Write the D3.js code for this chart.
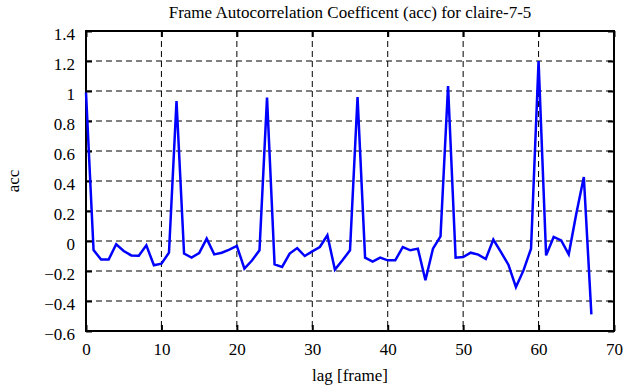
<!DOCTYPE html>
<html>
<head>
<meta charset="utf-8">
<script src="https://cdn.jsdelivr.net/npm/d3@7"></script>
<style>
  body { margin: 0; background: #fff; }
  svg text { font-family: "Liberation Serif", "DejaVu Serif", serif; fill: #000; }
</style>
</head>
<body>
<div id="chart"></div>
<script>
// acc per lag (lag 0..67)
const lags = d3.range(0, 68);
const acc = [
  0.99, -0.06, -0.124, -0.124, -0.022, -0.067, -0.096, -0.098, -0.029, -0.162,
  -0.151, -0.078, 0.933, -0.084, -0.111, -0.08, 0.016, -0.089, -0.078, -0.058,
  -0.033, -0.184, -0.13, -0.062, 0.956, -0.156, -0.173, -0.084, -0.047, -0.1,
  -0.069, -0.04, 0.038, -0.191, -0.129, -0.062, 0.96, -0.111, -0.138, -0.111,
  -0.129, -0.129, -0.04, -0.062, -0.051, -0.262, -0.051, 0.031, 1.033, -0.111,
  -0.107, -0.078, -0.091, -0.12, 0.009, -0.073, -0.158, -0.307, -0.196, -0.051,
  1.2, -0.096, 0.027, 0.004, -0.089, 0.182, 0.427, -0.489
];
const xTicks = [0, 10, 20, 30, 40, 50, 60, 70];
const yTicks = [-0.6, -0.4, -0.2, 0, 0.2, 0.4, 0.6, 0.8, 1, 1.2, 1.4];

const width = 625, height = 387;
const margin = { top: 31, right: 11, bottom: 56, left: 86 };

const svg = d3.select("#chart").append("svg")
  .attr("width", width)
  .attr("height", height);

const x = d3.scaleLinear().domain([0, 70]).range([margin.left, width - margin.right]);
const y = d3.scaleLinear().domain([-0.6, 1.4]).range([height - margin.bottom, margin.top]);

// dashed grid
svg.append("g")
  .selectAll("line.gx")
  .data(xTicks.slice(1, -1))
  .join("line")
    .attr("x1", d => x(d)).attr("x2", d => x(d))
    .attr("y1", y(1.4)).attr("y2", y(-0.6))
    .attr("stroke", "#000").attr("stroke-width", 1)
    .attr("stroke-dasharray", "6,4");

svg.append("g")
  .selectAll("line.gy")
  .data(yTicks.slice(1, -1))
  .join("line")
    .attr("x1", x(0)).attr("x2", x(70))
    .attr("y1", d => y(d)).attr("y2", d => y(d))
    .attr("stroke", "#000").attr("stroke-width", 1)
    .attr("stroke-dasharray", "6,4");

// axes with inward ticks
const fmt = d => d3.format("")(+d.toFixed(1));
svg.append("g")
  .attr("transform", `translate(0,${y(-0.6)})`)
  .call(d3.axisBottom(x).tickValues(xTicks).tickSizeInner(-6).tickSizeOuter(0).tickPadding(12))
  .call(g => g.select(".domain").remove());
svg.append("g")
  .attr("transform", `translate(0,${y(1.4)})`)
  .call(d3.axisTop(x).tickValues(xTicks).tickSizeInner(-6).tickSizeOuter(0).tickFormat(""))
  .call(g => g.select(".domain").remove());
svg.append("g")
  .attr("class", "yaxis")
  .attr("transform", `translate(${x(0)},0)`)
  .call(d3.axisLeft(y).tickValues(yTicks).tickSizeInner(-6).tickSizeOuter(0).tickPadding(11).tickFormat(fmt))
  .call(g => g.select(".domain").remove());
svg.append("g")
  .attr("transform", `translate(${x(70)},0)`)
  .call(d3.axisRight(y).tickValues(yTicks).tickSizeInner(-6).tickSizeOuter(0).tickFormat(""))
  .call(g => g.select(".domain").remove());

svg.selectAll(".tick line").attr("stroke", "#000").attr("stroke-width", 2);
svg.selectAll(".tick text")
  .style("font-family", "'Liberation Serif', serif")
  .attr("font-size", 17)
  .attr("fill", "#000");
// y labels sit a little below their ticks in the reference
svg.selectAll(".yaxis .tick text").attr("dy", "0.52em");

// frame
svg.append("rect")
  .attr("x", x(0)).attr("y", y(1.4))
  .attr("width", x(70) - x(0)).attr("height", y(-0.6) - y(1.4))
  .attr("fill", "none").attr("stroke", "#000").attr("stroke-width", 2);

// data line
const line = d3.line().x((d, i) => x(lags[i])).y(d => y(d));
svg.append("path")
  .datum(acc)
  .attr("d", line)
  .attr("fill", "none")
  .attr("stroke", "#0000ff")
  .attr("stroke-width", 2.5)
  .attr("stroke-linejoin", "miter");

// labels
svg.append("text")
  .attr("x", (x(0) + x(70)) / 2).attr("y", 18)
  .attr("text-anchor", "middle").attr("font-size", 17)
  .text("Frame Autocorrelation Coefficent (acc) for claire-7-5");
svg.append("text")
  .attr("x", (x(0) + x(70)) / 2).attr("y", 381)
  .attr("text-anchor", "middle").attr("font-size", 17)
  .text("lag [frame]");
svg.append("text")
  .attr("transform", `translate(19,${(y(1.4) + y(-0.6)) / 2}) rotate(-90)`)
  .attr("text-anchor", "middle").attr("font-size", 17)
  .text("acc");
</script>
</body>
</html>
